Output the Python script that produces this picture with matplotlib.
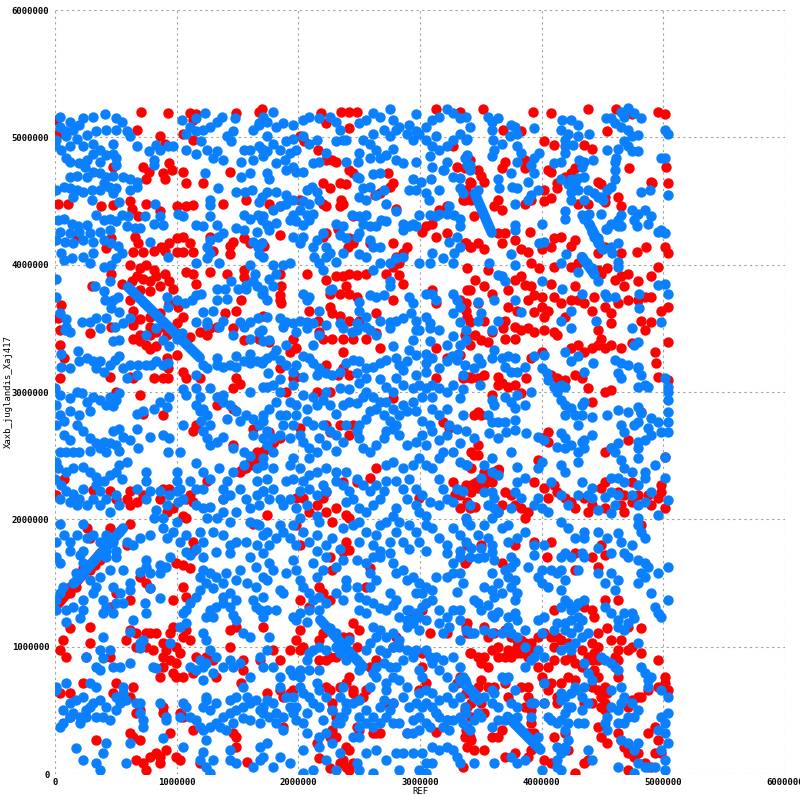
import matplotlib
matplotlib.use("Agg")
import matplotlib.pyplot as plt

# ---- data (all coordinates in kb; converted to bp below) ----
x_ticks_bp = [0, 1000000, 2000000, 3000000, 4000000, 5000000, 6000000]
y_ticks_bp = [0, 1000000, 2000000, 3000000, 4000000, 5000000, 6000000]
x_label = "REF"
y_label = "Xaxb_juglandis_Xaj417"

# reverse (blue) alignments drawn as longer segments (x1, y1, x2, y2)
rev_segments_kb = [
    (600, 3825, 1190, 3270), (160, 1500, 560, 1930), (2180, 1210, 2530, 843),
    (3330, 740, 3480, 600), (3720, 450, 3990, 190), (3450, 4560, 3590, 4250),
    (4390, 4320, 4500, 4120), (4330, 4060, 4430, 3930),
]
# forward (red) alignments drawn as longer segments
fwd_segments_kb = [
    (20, 1330, 380, 1740), (1520, 2370, 1800, 2600), (3290, 2190, 3650, 2390),
]

rev_a = [(40,5160),(120,5120),(230,5150),(310,5160),(410,5180),(500,5150),(550,5120),(40,5080),(80,5050),(150,5060),(200,5100),
(10,4980),(90,5010),(180,4990),(260,5020),(340,5050),(420,5060),(500,5060),(590,5050),(620,5010),
(0,4940),(50,4900),(120,4930),(230,4930),(310,4950),(370,4900),(480,4950),(480,4870),(500,4840),(420,4860),(310,4870),(260,4820),(200,4800),(120,4810),(90,4840),
(250,4770),(310,4730),(370,4810),(500,4780),(260,4690),(180,4700),(120,4690),(370,4720),(420,4690),(480,4700),(560,4690),(620,4670),(670,4650),(670,4610),(620,4590),(500,4600),(440,4610),(370,4590),(300,4590),(230,4570),(180,4590),(120,4600),(70,4610),(10,4590),(150,4530),(300,4510),(480,4560),(400,4640),
(670,4930),(770,4890),(810,4820),(810,4780),(860,4900),(930,4930),(970,4930),(830,4940),
(820,4480),(860,4380),(890,4310),(810,4320),(740,4380),(530,4490),
(25,4350),(70,4360),(140,4320),(190,4300),(260,4310),(340,4390),(400,4350),(450,4360),(500,4340),(550,4390),(600,4380),(660,4290),(700,4290),(590,4300),(450,4270),(370,4260),(290,4250),(200,4260),(120,4250),(40,4260),(10,4190),(80,4180),(150,4170),(230,4190),(310,4180),(400,4190),(460,4170),(520,4150),(550,4090),(500,4050),(460,4000),(400,3980),(310,4090),(290,4010),(230,4060),(140,4050),(70,4040),(50,4090),
(780,4180),(930,4060),(1050,4380),(1010,4400),(1160,4310),(1220,4300),(1270,4380),(1330,4310),(1380,4250),(1340,4220),(1270,4190),(1250,4140),(1270,4090),(1250,4050),(1160,4010),(1350,4010),
(1040,5140),(1110,5080),(1160,5050),(1220,5060),(1270,5080),(1330,5120),(1370,5160),(1230,5190),(1160,5150),(1080,5030),(1200,4970),(1250,4900),(1300,4840),(1380,4820),(1330,4890),(1450,4970),(1460,5050),(1410,5010),(1550,4900),(1600,4900),(1680,4930),(1710,4850),(1630,4820),(1530,4810),(1630,5060),(1680,5110),(1710,5160),(1480,5150),(1080,4900),(1160,4870),
(1230,4720),(1340,4600),(1270,4510),(1270,4470),(1600,4720),(1530,4690),(1490,4570),(1560,4570),(1620,4590),(1700,4530),(1680,4490),
(1550,4390),(1600,4360),(1670,4390),(1700,4350),(1490,4290),(1550,4270),(1660,4260),(1630,4180),(1670,4140),(1680,4080),(1600,4000),(1640,3930),(1570,3810),(1660,3830),(1710,3800),
(10,3890),(10,3750),(450,3870),(400,3790),(330,3830),(410,3720),(480,3720),(520,3750),(460,3660),(530,3630),(420,3580),(340,3580),(290,3550),(220,3550),(90,3570),(40,3620),(90,3510),(490,3510),(560,3540),
(920,3750),(930,3670),(1000,3720),(1070,3700),(1160,3760),(1130,3720),(1200,3770),(1330,3810),(1400,3810),(1330,3720),(1410,3730),(1450,3870),(1500,3810),(1570,3840),(1630,3870),(1700,3770),(1220,3630),(1300,3640),(1380,3560),(1350,3510),(1160,3550),(1250,3550),(1520,3550),(1600,3550),(1670,3580),(1550,3510),(615,3580)]

rev_b = [(1790,5200),(1740,5120),(1680,5100),(1820,5080),(1870,5110),(1960,5100),(2040,5140),(2090,5160),(2170,5150),(2260,5160),(2310,5120),(2340,5060),(2370,4980),
(1740,5010),(1790,4950),(1900,4970),(1960,4990),(2040,5010),(2090,4950),(2150,4980),(1980,4900),(1930,4880),(1850,4900),(1740,4890),(1700,4910),(1820,4800),(1890,4820),(1960,4770),(1740,4720),(1760,4670),(1900,4740),(1980,4730),(2040,4730),(2120,4800),(2170,4810),(2230,4880),(2310,4970),(2390,4980),(2500,5110),(2560,5140),(2610,5190),(2670,5160),(2750,5220),(2780,5140),(2800,5060),(2750,5010),(2700,5060),(2610,5030),(2590,4950),(2530,4980),(2640,4900),(2720,4860),(2780,4910),(2800,4820),(2860,4800),(2670,4840),(2590,4840),(2500,4880),(2390,4810),(2490,4810),(2480,4690),(2610,4710),(2670,4720),(2700,4590),(2640,4550),(2590,4610),(2530,4600),(2500,4530),(2560,4510),(2500,4680),
(2970,5180),(2910,5100),(2970,5050),(3050,5080),(3100,5140),(3160,5160),(3220,5220),(3270,5190),(3330,5150),(3380,5160),(3410,5080),(3380,4980),(3330,5030),(3270,4980),(3220,4930),(3160,4900),(3100,4930),(3050,4980),(2990,5030),(2940,4980),(2890,5030),(2830,5080),(3130,5010),(2970,4810),(3080,4850),(3100,4770),(3190,4740),(3220,4810),(3270,4690),(3330,4680),(3390,4780),(3390,4860),(3330,4600),(3350,4560),(3410,4740),(2940,4670),(3010,4650),(3090,4670),(2910,4590),(2970,4590),(3050,4560),(3070,4510),(3160,4590),(3200,4740),
(1740,4570),(1820,4570),(1900,4550),(1960,4510),(2070,4590),(2110,4610),(2150,4570),(2170,4510),(2090,4480),(2040,4500),(2010,4430),(1960,4390),(1980,4340),(2040,4310),(2090,4350),(2120,4400),(2070,4390),(1930,4350),(1820,4330),(1760,4300),(1710,4380),(1790,4430),(1850,4460),(1900,4480),(1760,4270),(1740,4310),(1960,4220),(2010,4170),(2040,4220),(2150,4190),(2200,4250),(2120,4140),(2130,4060),(2170,4010),(2200,3960),(2230,4060),(2310,4320),(2370,4300),(2440,4390),(2500,4380),(2560,4390),(2530,4320),(2590,4300),(2640,4300),(2680,4350),(2720,4340),(2720,4480),(2800,4420),(2860,4320),(2910,4300),(2940,4320),(2860,4270),(2970,4300),(2990,4390),(3080,4390),(3130,4380),(3160,4400),(3220,4400),(3240,4460),(3280,4390),(3330,4360),(3330,4300),(3300,4220),(3240,4180),(3330,4140),(3280,4090),(3270,4010),(3190,4050),(3100,4090),(3080,4010),(2990,4010),(2860,4060),(2800,4050),(2750,4010),(2670,4010),(2610,3960),(2560,4060),(2500,4080),(2590,4190),(2670,4140),(2610,4140),(2500,4250),(2480,4220),(2370,4090),(2390,4210),(2340,4230),(2310,4020),(2260,4090),(2230,4140),(1710,4060),(1700,4170),(1870,4000),(1930,4010),(1790,4000),(1820,3930),(1760,3890),(1790,3830),(1710,3770),(1740,3720),
(2040,3770),(2090,3750),(2070,3720),(2170,3640),(2260,3800),(2280,3810),(2500,3710),(2590,3760),(2640,3750),(2700,3760),(2750,3830),(2750,3870),(2910,3750),(2940,3700),(2930,3620),(2860,3580),(2800,3560),(2750,3550),(2670,3560),(2560,3590),(2500,3640),(2560,3510),(2480,3540),(2340,3540),(2230,3530),(2120,3540),(2070,3550),(2010,3560),(1960,3540),(1850,3580),(1900,3550),(1740,3590),(1870,3510),(3050,3770),(3100,3770),(3130,3720),(3270,3770),(3300,3720),(3330,3670),(3270,3620),(3330,3550),(3380,3490),(3050,3590),(3080,3540),(2970,3560),(2990,3490),(3160,3490)]

rev_c = [(3560,5160),(3590,5120),(3640,5150),(3590,5060),(3600,4980),(3610,4900),(3590,4850),(3670,4950),(3740,5010),(3780,5080),(3800,5030),(3750,5100),(3940,5070),(3800,4930),(3830,4880),(3800,4810),(3750,4720),(3640,4670),(3650,4600),(3760,4610),(3800,4600),(3890,4650),(3940,4720),(3910,4780),(3940,4840),(3980,4880),(3970,4590),(3910,4550),(3890,4510),(3390,4990),(3370,4840),(3410,4780),(3480,4590),(3780,4480),(3780,4310),(3780,4270),(4000,4320),(3980,4170),(4020,4180),(4100,4800),(4160,4810),(4190,4880),(4190,4980),(4160,5060),(4170,5140),(4240,5140),(4300,5100),(4220,5030),(4260,4940),(4300,5010),(4390,5030),(4190,4930),(4160,4670),(4220,4630),(4240,4670),(4270,4640),(4300,4680),(4350,4690),(4330,4770),(4350,4810),(4420,4820),(4310,4820),(4240,4570),(4300,4590),(4380,4590),(4430,4560),(4460,4530),(4490,4530),(4350,4510),(4240,4510),(4190,4420),(4190,4360),(4330,4390),(4350,4360),(4390,4400),(4390,4320),(4410,4260),(4430,4220),(4460,4170),(4500,4120),(4570,4140),(4630,4170),(4580,4090),(4630,4020),(4630,3980),(4330,4060),(4370,4010),(4410,3970),(4430,3930),(4300,3940),(4160,4010),(4200,4080),(4460,3870),(4520,3770),(4540,3750),(4460,4210),(4530,4280),(4570,4320),(4630,4350),(4650,4390),(4630,4300),(4490,4400),(4500,4510),(4570,4610),(4600,4670),(4540,4590),(4600,4740),(4600,4810),(4630,4910),(4610,4840),(4540,4900),(4680,4970),(4710,4930),(4740,5010),(4790,5020),(4710,5060),(4650,5080),(4600,5110),(4570,5150),(4530,5150),(4650,5200),(4710,5230),(4760,5190),(4820,5150),(4680,5160),(4790,4890),(4740,4890),(5010,5060),(5040,5030),(4980,4840),(5010,4840),(5040,4550),(4820,4570),(4890,4590),(4740,4430),(4790,4400),(4850,4430),(4900,4380),(4870,4320),(4760,4350),(4780,4300),(4650,4300),(4540,4280),(4960,4260),(4980,4270),(5010,4250),(4960,3840),(5010,3850),(5040,3770),(4800,3770),(4800,3660),(4980,3550),(3640,3920),(3670,3910),(3700,3870),(3570,4010),(3780,4000),(3750,4080),(4000,3870),(4170,3810),(4330,3770),(4240,3640),(4160,3560),(4450,3560),(4600,3750),(3610,3720),(3480,3710),(3500,3620),(3480,3560),(3640,3560),(3780,3720),(3830,3630)]

rev_d = [(80,3490),(120,3475),(370,3500),(480,3400),(530,3410),(750,3450),(830,3500),(890,3410),(940,3360),(1000,3420),(1040,3460),(1250,3527),(1460,3450),(1600,3420),(1680,3475),(1710,3400),
(50,3300),(50,3200),(120,3190),(190,3320),(200,3240),(260,3265),(310,3240),(370,3240),(400,3160),(340,3190),(450,3210),(490,3250),(530,3280),(560,3190),(620,3210),(590,3110),(670,3130),(680,3210),(750,3210),(790,3210),(830,3240),(890,3210),(930,3230),(1160,3130),(1220,3210),(1250,3190),(1330,3210),(1380,3200),(1440,3210),(1490,3200),(1550,3240),(1600,3230),(1660,3240),(1710,3240),(1330,3265),(1490,3280),(1600,3300),
(0,3030),(40,2980),(120,2950),(180,3000),(220,2990),(260,2920),(310,2960),(370,2940),(420,2900),(480,2890),(500,2940),(530,2990),(450,2960),(290,2850),(200,2820),(120,2850),(40,2820),(10,2900),(10,2740),(70,2770),(70,2660),(120,2620),(180,2740),(230,2690),(290,2640),(340,2600),(400,2610),(450,2600),(500,2580),(480,2690),(530,2710),(560,2650),(620,2620),(670,2710),(720,2850),(670,2830),(810,2870),(860,2920),(920,2880),(940,2960),(780,2650),(890,2660),(940,2640),(1050,3020),(1080,2980),(1050,2740),(1030,2530),(930,2530),(1160,3030),(1190,2960),(1220,2870),(1250,2820),(1200,2770),(1220,2690),(1270,2740),(1250,2640),(1270,2580),(1330,2610),(1270,3030),(1330,2960),(1380,2980),(1380,2920),(1440,2900),(1490,2850),(1520,2770),(1410,2790),(1570,2820),(1630,2790),(1680,2740),(1710,2820),(1600,3000),(1710,3040),(1380,2650),(1460,2560),(1550,2530),(1600,2500),(1630,2660),(1710,2640),(1160,2900),(1190,2850),
(40,2530),(90,2530),(150,2530),(200,2530),(290,2540),(370,2560),(420,2530),(530,2540),(680,2560),(590,2450),(10,2450),(25,2400),(0,2320),(90,2370),(150,2400),(230,2410),(290,2370),(340,2330),(400,2300),(450,2350),(500,2370),(530,2430),(550,2320),(750,2370),(1000,2370),(1160,2440),(1220,2370),(1270,2320),(1350,2400),(1410,2300),(1460,2370),(1550,2430),(1660,2400),(1710,2430),(1660,2300),
(50,2270),(90,2220),(150,2200),(230,2240),(200,2160),(340,2270),(370,2220),(420,2160),(500,2190),(530,2110),(450,2060),(370,2110),(310,2160),(260,2110),(180,2110),(120,2140),(40,2160),(670,2240),(750,2300),(780,2220),(750,2160),(860,2220),(940,2190),(1000,2220),(1050,2160),(1010,2140),(920,2110),(830,2070),(890,2010),(1000,1980),(810,2010),(1000,2300),(1030,2240),(1110,2300),(1160,2240),(1220,2240),(1220,2090),(1270,2100),(1160,2110),(1250,2010),(1330,2010),(1380,2060),(1440,1980),(1490,2060),(1600,2090),(1660,2190),(1710,2220),(1380,2240),(1440,2190),(1380,2160),(1520,2240),(1570,2160),(1600,1980),(1660,1960),(1710,1880),(1660,1800),(1570,1820),(1490,1820),(1380,1880),(1440,1800),(1300,1900),(1190,1900),(1220,1820),(1160,1770),(40,1960),(70,1880),(10,1820),(120,1820),(180,1880),(230,1960),(260,1850),(310,1880),(370,1820),(420,1880),(480,1820),(530,1900),(500,1750),(420,1750),(590,1820),(640,1800),(700,1850),(780,1880),(890,1930),(920,1850),(970,1900),(1080,1880),(1030,1820),(230,1750),(120,1750)]

rev_e = [(1700,3490),(1760,3410),(1820,3330),(1900,3370),(1980,3475),(2070,3500),(2120,3370),(2170,3450),(2370,3500),(2440,3475),(2480,3490),(2590,3490),(2640,3450),(2750,3500),(2970,3490),(3080,3500),(2940,3410),(3080,3400),(3220,3370),(3270,3440),(3330,3370),(3380,3410),(2780,3360),(2910,3330),(2970,3290),(3050,3300),(3100,3265),(3050,3230),(2890,3240),(2800,3265),(2830,3210),(2720,3250),(2670,3230),(2610,3200),(2560,3190),(2500,3240),(2450,3250),(2390,3230),(2340,3160),(2280,3130),(2230,3150),(2170,3190),(2120,3230),(2090,3265),(2040,3280),(1980,3210),(1960,3160),(1900,3210),(1850,3250),(1790,3290),(1740,3265),(1700,3230),(1750,3150),(1740,3040),(1790,3055),(1850,3000),(1960,3055),(1850,3100),(2040,3120),(2150,3130),(3260,3280),(3300,3250),(3310,3300),(3220,3240),(3160,3190),(3350,3130),(3440,3190),(2860,3170),(2970,3130),(3050,3160),(2800,3110),(2670,3100),(2560,3110),(2480,3150),(2500,3070),(2420,3020),(2340,3030),(2230,3000),(2120,2960),(2040,2980),(1980,2900),(1930,2920),(1980,2820),(2070,2870),(2150,2900),(2200,2940),(2260,2900),(2310,2830),(2370,2900),(2420,2920),(2480,2910),(2530,2960),(2560,3000),(2610,2960),(2670,2920),(2720,3040),(2780,3000),(2860,3055),(2940,3030),(2990,3055),(3050,3030),(3100,3055),(3160,3030),(3220,3000),(3270,3055),(3330,2950),(3350,3020),(3100,2960),(3020,2960),(2940,2920),(2970,2850),(3020,2770),(3020,2660),(3050,2580),(2970,2610),(2890,2580),(2830,2660),(2800,2740),(2750,2770),(2700,2820),(2640,2870),(2590,2850),(2560,2790),(2500,2740),(2480,2690),(2500,2640),(2530,2560),(2590,2530),(2640,2580),(2700,2640),(2720,2690),(2780,2710),(2830,2820),(2890,2850),(2860,2900),(2780,2870),(2720,2920),(3100,2870),(3160,2820),(3220,2870),(3240,2740),(3220,2660),(3160,2620),(3100,2690),(3080,2740),(3300,2710),(3350,2820),(3380,2690),(3440,2640),(3330,2600),(3270,2530),(3190,2530),(3160,2480),(3330,2450),(3380,2430),(1820,2920),(1760,2870),(1710,2770),(1740,2690),(1790,2640),(1850,2660),(1870,2740),(1900,2820),(1850,2820),(1930,2640),(1960,2740),(2010,2660),(2040,2610),(2090,2560),(2150,2530),(2170,2640),(2120,2740),(2070,2770),(2200,2740),(2260,2690),(2310,2660),(2390,2740),(2370,2610),(2310,2540),(2230,2580),(1740,2580),(1790,2530),(1710,2480),(1960,2480),(2090,2480),(2010,2400),(1930,2430),(1790,2400),(1740,2320),(1790,2240),(1900,2300),(1960,2320),(2040,2300),(2090,2350),(2150,2370),(2200,2270),(2230,2220),(2150,2190),(2090,2240),(2010,2220),(1930,2160),(1850,2160),(1760,2160),(1870,2110),(1980,2090),(2070,2110),(2150,2030),(2170,1980),(2230,2400),(2310,2370),(2390,2370),(2310,2300),(2370,2270),(2420,2220),(2480,2320),(2530,2270),(2590,2220),(2640,2270),(2700,2220),(2670,2160),(2610,2110),(2560,2060),(2500,2090),(2450,2160),(2390,2140),(2720,2300),(2800,2300),(2860,2240),(2720,2430),(2780,2450),(2860,2400),(2940,2430),(2990,2480),(3050,2430),(3100,2400),(3160,2320),(3190,2240),(3220,2160),(3160,2110),(3080,2140),(3020,2190),(2970,2240),(2910,2320),(2890,2160),(2970,2110),(2990,2060),(3050,2030),(3300,2240),(3350,2220),(3270,2140),(3410,2110),(3380,2010),(3270,1930),(3330,1880),(3410,1955),(3380,1820),(3330,1750),(3220,1800),(3160,1850),(3100,1930),(3050,1955),(2970,1900),(2910,1955),(2830,1980),(2780,2030),(2720,1980),(2670,1955),(2640,1880),(2610,1800),(2670,1750),(2750,1820),(2800,1900),(2860,1820),(2910,1770),(2990,1820),(3050,1750),(2560,1900),(2500,1820),(2450,1955),(2370,1930),(2280,1850),(2230,1800),(2150,1880),(2090,1820),(2040,1900),(1980,1800),(1930,1850),(1870,1900),(1820,1850),(1760,1800),(1740,1900),(1680,1955),(1850,1955),(1960,1955),(2010,2010),(1710,2220),(1680,2110),(2800,2086),(2500,1980),(2340,1770),(2150,1750)]

rev_f = [(3590,3490),(4240,3500),(4740,3500),(3610,3330),(3480,3265),(3500,3230),(3590,3265),(3670,3265),(3720,3280),(3780,3265),(3700,3200),(3750,3160),(3800,3160),(3860,3200),(3940,3280),(4020,3290),(4190,3317),(4240,3240),(4300,3280),(4350,3160),(4420,3230),(4600,3250),(4650,3230),(4710,3213),(4790,3200),(4760,3370),(4790,3396),(4630,3150),(4650,3108),(4790,3186),(4820,3134),(4850,3055),(4790,3040),(4870,3040),(5010,3108),(5040,3040),(5040,3003),(5040,2940),(5040,2846),(5040,2689),(4960,2767),(5010,2490),(3370,3213),(3490,3055),(3590,2940),(3610,2898),(3700,2960),(3750,2924),(3780,2872),(3800,2977),(3860,2898),(3910,3003),(3560,2820),(3590,2767),(3640,2767),(3700,2767),(3780,2780),(3570,2676),(3640,2636),(3710,2689),(3780,2700),(3870,2676),(3970,2650),(4020,2623),(4000,3186),(4040,3147),(4050,3095),(4100,3040),(4130,3003),(4160,3055),(4190,3040),(4160,2940),(4190,2898),(4190,2820),(4240,2872),(4270,2820),(4300,2741),(4330,2898),(4350,2924),(4410,2807),(4330,2820),(4160,2676),(4190,2636),(4130,2571),(4190,2558),(4240,2584),(4300,2531),(4350,2558),(4330,2610),(4410,2662),(4350,2623),(4540,2820),(4630,2859),(4710,2846),(4790,2885),(4820,2833),(4790,2767),(4760,2741),(4650,2741),(4680,2689),(4870,2715),(4900,2662),(4850,2623),(4790,2610),(4900,2793),(5040,2767),(4980,2689),(4600,2531),(4570,2558),(4630,2597),(4650,2466),(4680,2400),(4570,2322),(4630,2322),(4740,2374),(4790,2558),(4790,2479),(4850,2374),(4850,2322),(4790,2269),(4740,2191),(4790,2112),(4850,2138),(4900,2217),(4930,2427),(5010,2322),(5040,2151),(4960,2034),(4790,2008),(4790,1955),(4820,1903),(4850,1850),(4740,1798),(4650,1824),(4630,1890),(4540,1850),(4460,1903),(4350,1903),(4350,1850),(4270,1850),(4220,1929),(4160,1981),(4050,2060),(4000,2086),(3970,2165),(3940,2112),(3800,2296),(3780,2217),(3830,2165),(3750,2086),(3720,1955),(3670,1929),(3640,2060),(3590,2008),(3530,1955),(3480,1877),(3390,1981),(3560,1850),(3590,1798),(3500,1772),(3420,1772),(3720,1824),(3800,1850),(3860,1903),(3940,1798),(4080,2296),(4160,2191),(4220,2112),(4300,2191),(4380,2191),(4410,2243),(4460,2073),(4520,2178),(4570,2217),(4630,2191),(4600,2112),(4680,2296),(3390,2427),(3500,2322),(3530,2427),(3590,2479),(3590,2374),(3640,2348),(3590,2217),(3530,2217),(3610,2165),(3560,2112),(3610,2086),(3750,2531),(3800,2414),(3860,2322),(3970,2400),(4000,2453),(4160,2427),(4190,2374),(4300,2453),(4330,2296),(4410,2165),(4570,2047),(4460,1772),(4020,1798)]

rev_g = [(12,1708),(40,1655),(204,1720),(231,1655),(176,1577),(149,1498),(67,1472),(39,1419),(12,1367),(12,1288),(94,1288),(149,1315),(231,1367),(231,1288),(204,1223),(94,1197),(286,1524),(368,1550),(341,1472),(313,1419),(395,1367),(423,1315),(395,1262),(478,1262),(505,1341),(560,1341),(532,1419),(478,1472),(450,1603),(423,1708),(505,1708),(560,1603),(615,1498),(615,1446),(752,1681),(752,1629),(697,1590),(779,1577),(861,1642),(943,1708),(916,1629),(861,1577),(779,1459),(861,1380),(738,1341),(752,1262),(642,1210),(615,1118),(697,1026),(724,1053),(697,987),(395,1079),(368,974),(450,974),(258,922),(395,908),(341,843),(368,817),(532,843),(615,869),(478,843),(834,830),(806,843),(943,1026),(1080,1747),(1108,1720),(1217,1708),(1327,1747),(1437,1734),(1601,1708),(1656,1629),(1217,1603),(1190,1550),(1245,1498),(1300,1459),(1190,1446),(1163,1393),(1108,1341),(1080,1288),(1053,1262),(1080,1184),(1026,1157),(1245,1236),(1272,1288),(1327,1315),(1300,1236),(1382,1393),(1437,1419),(1382,1341),(1437,1315),(1491,1367),(1464,1249),(1491,1210),(1546,1105),(1601,1079),(1656,1315),(1628,1367),(1683,1288),(1710,1236),(1656,1472),(1710,1550),(1574,1498),(1491,1524),(1382,1498),(1327,1550),(1272,1577),(1409,1577),(1519,1603),(1217,1105),(1245,1053),(1272,974),(1327,922),(1245,869),(1217,843),(1300,791),(1382,843),(1437,895),(1464,843),(1519,869),(1601,764),(1710,843),(1683,922),(1190,895),(12,686),(94,712),(176,581),(231,607),(121,555),(67,502),(121,450),(67,398),(39,371),(149,476),(204,450),(258,502),(286,529),(341,450),(395,450),(450,424),(505,502),(532,555),(560,633),(560,686),(587,581),(505,607),(423,529),(368,581),(341,686),(313,555),(258,450),(204,398),(669,555),(697,476),(724,424),(724,371),(615,240),(423,240),(395,162),(341,83),(368,31),(176,201),(231,109),(587,83),(861,555),(916,450),(916,424),(889,280),(1053,555),(1080,529),(1108,450),(1163,424),(1190,371),(1217,345),(1272,371),(1327,398),(1382,450),(1437,476),(1491,502),(1546,529),(1601,555),(1656,581),(1710,529),(1245,607),(1217,529),(1272,502),(1327,555),(1245,581),(1437,581),(1491,607),(1574,607),(1683,502),(1683,398),(1601,424),(1546,437),(1464,398),(1409,345),(1354,371),(1245,267),(1217,175),(1190,109),(1245,57),(1300,109),(1437,188),(1437,109),(1491,83),(1628,57),(1683,109),(1683,214),(1272,5),(1053,214),(1026,450),(1217,738),(1163,817),(1108,843),(1546,686),(12,660),(697,555),(286,712)]

rev_h = [(1710,1734),(1760,1655),(1790,1603),(1740,1524),(1710,1393),(1740,1288),(1820,1288),(1870,1419),(1850,1446),(1900,1577),(1960,1681),(1980,1603),(2010,1524),(2040,1472),(2090,1419),(2120,1367),(2170,1393),(2150,1550),(2120,1655),(2230,1708),(2200,1603),(2310,1629),(2370,1681),(2390,1524),(2480,1681),(2390,1472),(2310,1419),(2370,1367),(2230,1341),(2170,1288),(2090,1288),(2010,1262),(1980,1210),(2070,1197),(1960,1236),(2480,1472),(2500,1393),(2590,1472),(2640,1524),(2590,1577),(2560,1655),(2610,1708),(2670,1708),(2750,1734),(2780,1655),(2800,1577),(2860,1603),(2890,1524),(2940,1550),(2990,1498),(3050,1472),(3100,1446),(3130,1550),(3220,1550),(3270,1577),(3330,1577),(3270,1655),(3330,1708),(3220,1734),(3350,1498),(3410,1708),(3440,1367),(3100,1367),(3050,1341),(3020,1315),(2990,1236),(2970,1262),(2940,1184),(2890,1210),(2910,1288),(2750,1419),(2800,1367),(2780,1328),(2720,1288),(2670,1302),(2610,1341),(2560,1367),(2560,1262),(2500,1288),(3300,1433),(3270,1288),(3330,1210),(3050,1210),(3160,1288),(3190,1105),(3330,1053),(1760,1079),(1740,974),(1790,843),(1850,764),(1850,686),(1900,607),(1980,529),(1960,607),(1930,529),(1820,476),(1760,450),(1710,476),(1740,581),(2010,686),(1930,817),(1960,778),(2010,817),(2090,817),(2170,817),(2070,895),(2090,948),(2120,974),(2170,1000),(2230,974),(2310,1000),(2340,948),(2390,895),(2420,1053),(2310,1105),(2260,1144),(2480,895),(2500,817),(2560,974),(2590,1026),(2640,1079),(2670,974),(2720,948),(2780,1000),(2830,1000),(2890,974),(2860,895),(2800,843),(2750,843),(2700,869),(2640,843),(2610,791),(2640,764),(2590,686),(2500,581),(2560,502),(2610,450),(2670,529),(2700,581),(2720,660),(2720,712),(2780,764),(2830,738),(2890,686),(2860,607),(2780,555),(2750,502),(2720,450),(2780,398),(2830,398),(2670,398),(2610,371),(2560,398),(2500,450),(2500,371),(2450,555),(2390,502),(2340,450),(2280,502),(2230,607),(2170,529),(2120,555),(2070,476),(2040,398),(1980,424),(1960,476),(1870,450),(1820,398),(1870,345),(2200,424),(2310,398),(2370,450),(2390,555),(2340,607),(2170,660),(2040,633),(2090,607),(2150,712),(2010,764),(2370,686),(2340,398),(2230,319),(2170,293),(2070,319),(2170,214),(2230,109),(2280,240),(2340,162),(2450,293),(2500,293),(2560,162),(2640,188),(2720,109),(2800,162),(2860,162),(2940,162),(3020,162),(3050,83),(3100,83),(3160,188),(3220,214),(3270,188),(3300,136),(3330,83),(3440,83),(2940,424),(2990,450),(3020,529),(3050,555),(3100,529),(3130,476),(3160,450),(3220,424),(3270,424),(3330,450),(3380,476),(3440,424),(3350,398),(3410,345),(3240,345),(3190,371),(3080,371),(2990,345),(3050,398),(2910,529),(2970,555),(2890,319),(2940,319),(3080,922),(3100,869),(3160,817),(3190,895),(3270,922),(3330,843),(3350,764),(3380,712),(3410,660),(3440,607),(3220,764),(3270,686),(3330,607),(3270,555),(3220,607),(3160,581),(3100,633),(3050,660),(2990,633),(3020,764),(2990,817),(2940,922),(2970,974),(3050,974),(3130,922),(1740,240),(1710,136),(1790,57),(1850,136),(1930,83),(2040,5),(2120,31),(2310,31),(2480,83),(2500,31),(2610,5),(2830,31),(2990,31),(3050,5),(3100,214),(1790,555),(2040,188),(2610,1157),(2670,1131),(2720,1079),(2780,1105),(2830,1053),(2890,1157),(2940,1210),(2990,1131),(2830,1236),(2890,1288),(2970,1419),(3020,1419),(3160,1184),(3220,1236),(3240,1157),(3330,1288),(3380,1131),(3440,1105)]

rev_i = [(3480,1695),(3530,1708),(3610,1681),(3590,1747),(3750,1708),(3780,1668),(3750,1629),(3890,1629),(3940,1721),(4000,1603),(3970,1550),(3590,1577),(3530,1472),(3590,1446),(3640,1498),(3670,1419),(3610,1393),(3560,1328),(3480,1341),(3500,1288),(3590,1249),(3610,1236),(3640,1275),(3700,1603),(3720,1550),(3780,1524),(3750,1472),(3800,1419),(3780,1367),(3720,1236),(3780,1262),(3800,1210),(3720,1157),(3670,1105),(3590,1105),(3530,1131),(3420,1105),(3750,1105),(3800,1079),(3860,1131),(3860,1000),(3860,843),(3910,895),(3940,922),(3970,974),(4020,922),(4000,1105),(3970,1210),(4020,1236),(4050,1472),(4000,1498),(4080,1603),(4130,1577),(4160,1708),(4190,1734),(4240,1708),(4330,1734),(4350,1708),(4160,1603),(4190,1524),(4160,1446),(4190,1367),(4160,1315),(4220,1341),(4240,1288),(4270,1315),(4300,1341),(4350,1367),(4300,1236),(4330,1210),(4240,1210),(4190,1184),(4130,1184),(4100,1131),(4190,1131),(4240,1105),(4300,1157),(4330,1079),(4270,1026),(4240,974),(4160,974),(4220,1000),(4380,1105),(4300,1603),(4460,1577),(4570,1577),(4630,1524),(4600,1446),(4520,1498),(4520,1315),(4570,1262),(4630,1210),(4680,1262),(4740,1262),(4710,1184),(4680,1131),(4630,1157),(4760,1223),(4790,1681),(4850,1655),(4870,1629),(4850,1550),(4820,1577),(4790,1498),(4900,1419),(4930,1315),(4960,1262),(4980,1236),(5040,1629),(5040,1367),(4960,1577),(4680,1734),(4710,1708),(4570,1734),(4350,869),(4380,791),(4410,738),(4490,922),(4520,895),(4570,869),(4600,843),(4630,817),(4570,660),(4650,686),(4790,1026),(4820,843),(4850,791),(4870,738),(4900,764),(4870,686),(4980,660),(5040,607),(5040,476),(4980,450),(5010,398),(4960,345),(5010,319),(5040,240),(4980,188),(5010,109),(5010,31),(4930,57),(4870,57),(4760,450),(4790,502),(4740,555),(4680,607),(4650,555),(4630,502),(4570,529),(4540,450),(4520,398),(4540,345),(4630,398),(4680,398),(4710,450),(4650,267),(4710,240),(4760,188),(4630,57),(4760,5),(3370,738),(3390,686),(3420,660),(3450,607),(3480,581),(3530,607),(3590,660),(3610,633),(3640,529),(3590,555),(3670,764),(3700,738),(3720,764),(3780,660),(3750,555),(3800,529),(3970,293),(3800,450),(3910,450),(3480,476),(3500,450),(3590,371),(3390,371),(3370,529),(3640,424),(3700,424),(4000,31),(4020,712),(4020,555),(4050,450),(4080,424),(4130,398),(4160,424),(4190,476),(4220,529),(4160,581),(4160,633),(4190,607),(4240,633),(4270,686),(4300,660),(4330,607),(4240,529),(4220,398),(4300,398),(4350,398),(4330,502),(4380,555),(4350,686),(4190,345),(4220,267),(4190,214),(4160,162),(4130,109),(4130,57),(4160,31),(4190,188),(4130,214),(3750,136),(3800,83),(3860,109),(3610,83),(4410,109),(4380,188),(4790,83),(4850,57),(4790,240),(3910,555),(3940,555)]

fwd_a = [(710,5200),(930,5190),(1110,5190),(1160,5180),(1135,5140),(1490,5190),(1680,5200),(1050,5030),(1135,4980),(670,5060),(860,5010),(900,4950),(25,5030),(10,5140),
(480,4770),(720,4770),(770,4730),(750,4670),(890,4720),(960,4740),(900,4670),(940,4800),(1050,4730),(1080,4640),(1220,4640),(1440,4730),
(25,4480),(110,4480),(380,4460),(480,4470),(620,4500),(630,4440),(750,4480),(680,4380),(860,4420),(1000,4460),(1080,4460),(1135,4470),(1380,4480),(1570,4510),
(655,4220),(683,4170),(640,4100),(720,4100),(810,4110),(875,4140),(940,4170),(1000,4210),(1050,4220),(1110,4170),(1135,4100),(1050,4100),(1000,4100),(900,4110),(1270,4220),(1300,4110),(1440,4150),(1460,4180),(1550,4210),(1600,4170),(1440,4080),(180,4220),(420,4130),(460,4210),
(615,4000),(700,3970),(750,4000),(810,3960),(670,3910),(720,3890),(780,3870),(830,3910),(900,3930),(940,3870),(970,3810),(860,3830),(780,3790),(700,3800),(630,3870),(615,3720),(640,3640),(630,3570),(700,3570),(780,3590),(860,3620),(940,3700),(1010,3670),(1050,3590),(1000,3540),(890,3510),(780,3510),(1080,3940),(1135,3930),(1270,3940),(1160,3850),(1410,3930),(1550,3960),(1550,3900),(1530,3720),(1490,3640),(1400,3620),(1330,3510),(50,3680),(25,3580),(300,3830),(460,3930),(550,3850)]

fwd_b = [(1700,5220),(2190,5190),(2230,5110),(2350,5200),(2420,5200),(2480,5200),(2420,5070),(2010,5010),(2050,4970),(2160,4900),(2280,4820),(2310,4810),(2420,4740),(2450,4720),(2230,4820),(2200,4640),(2340,4640),(2390,4630),(2260,4600),(2350,4510),(2340,4460),(2370,4480),(2010,4510),(2200,4480),(2230,4460),(1760,4480),(1850,4460),(2740,4720),(2750,4610),(2780,4640),(2670,4560),(2630,4550),(2800,4440),(3130,5220),(3330,5200),(3270,4930),(3300,4770),(3410,4820),(3410,4650),(3380,4590),(3350,4510),(3410,4520),(3160,4430),(3220,4460),(3050,4300),(3100,4320),(3020,4260),(3130,4220),(3220,4250),(3380,4170),(3440,4380),(3410,4140),(2450,4380),(2330,4280),(2230,4250),(2200,4220),(2420,4210),(2410,4140),(2450,4170),(2590,4170),(2780,4170),(2800,4060),(2860,4090),(2890,4140),(2830,4010),(2780,3980),(1850,4230),(1700,4170),(1720,4150),(2070,3930),(2310,3910),(2370,3910),(2420,3930),(2480,3920),(2560,3930),(2720,3930),(2830,3920),(2390,3830),(2340,3770),(2420,3770),(2480,3750),(2260,3770),(2230,3880),(1850,3930),(1860,3830),(1850,3760),(1850,3720),(1860,3700),(1710,3600),(2090,3640),(2160,3560),(2260,3670),(2280,3620),(2340,3600),(2420,3560),(2500,3560),(2640,3620),(2780,3720),(2860,3850),(3100,3800),(3130,3700),(3410,3800),(3380,3700),(3330,3720),(3410,3550),(3380,3640)]

fwd_c = [(3520,5220),(3930,5200),(4080,5190),(4380,5220),(4610,5220),(4740,5180),(4960,5200),(5010,5180),(3680,5060),(3830,5050),(4020,4970),(4100,4940),(4350,4940),(4410,4910),(4540,5050),(4720,4760),(5020,4770),(5040,4640),(4910,4640),(3370,4760),(3480,4740),(3500,4700),(3530,4650),(3420,4640),(3670,4760),(3700,4810),(3860,4820),(3860,4760),(4050,4740),(4080,4730),(4270,4760),(4240,4720),(4190,4690),(4130,4640),(4130,4600),(4020,4590),(4080,4520),(4020,4500),(3910,4510),(3860,4480),(3640,4510),(3610,4460),(3670,4430),(3420,4510),(3370,4510),(4460,4650),(4490,4630),(4520,4530),(4630,4530),(4520,4490),(4380,4480),(4300,4480),(4650,4460),(4900,4650),(4860,4140),(4780,4100),(5010,4140),(5040,4090),(4650,4090),(4460,4090),(4520,4140),(4270,4190),(4240,4150),(4160,4220),(4080,4140),(4100,4210),(4000,4120),(3780,4190),(3700,4250),(3640,4250),(3900,4260),(3830,4120),(3890,4100),(3670,4170),(3480,4170),(3420,4140),(3530,4120),(3370,4170),(3390,3970),(3560,3960),(3450,3880),(3390,3800),(3530,3830),(3590,3770),(3480,3700),(3390,3590),(3530,3560),(3720,3800),(3780,3880),(3830,3910),(3860,3840),(3910,3830),(3940,3760),(3890,3720),(4000,3750),(4000,3670),(4080,3850),(4100,3750),(4050,3640),(4020,3590),(3940,3630),(3800,3640),(3720,3670),(3700,3560),(3780,3510),(4160,3700),(4270,3830),(4300,3720),(4240,3720),(4190,3590),(4350,3700),(4410,3640),(4430,3750),(4520,3670),(4570,3620),(4570,3540),(4630,3700),(4680,3830),(4710,3930),(4650,3910),(4790,3870),(4790,3720),(4850,3750),(4710,3720),(4900,3750),(5040,3670),(4820,3560),(4900,3550),(4980,3640),(4240,3980),(4300,4010),(4490,3930),(4540,3970),(4460,3960),(4960,3980),(4900,3910),(4600,3880),(4100,3980),(3980,3970),(3910,4010)]

fwd_d = [(40,3490),(290,3460),(460,3510),(640,3527),(700,3450),(750,3370),(780,3340),(700,3400),(640,3420),(780,3450),(830,3475),(920,3450),(1000,3460),(1110,3430),(1190,3475),(1250,3450),(1270,3500),(1460,3500),(1550,3410),(1680,3420),(40,3370),(70,3265),(40,3110),(450,3120),(620,3120),(640,3110),(810,3110),(890,3110),(930,3110),(930,3190),(1050,3160),(1080,3110),(1190,3110),(920,3265),(1000,3290),(500,3000),(700,2980),(890,2820),(720,2830),(830,3360),(1490,3110),(1460,3030),(1520,3060),(1330,2900),(1460,2870),(1160,2740),(1135,2690),(1630,2710),(1460,2580),(1660,2530),(1680,2480),(1630,2430),(1570,2400),(1520,2370),(10,2190),(70,2320),(310,2230),(450,2220),(500,2160),(590,2160),(615,2220),(615,2110),(670,2140),(720,2190),(890,2240),(940,2240),(860,2160),(920,2060),(970,2090),(1080,2160),(1110,2190),(1135,2140),(1080,2010),(1250,2300),(1380,2160),(1630,1960),(260,1930),(290,1850),(615,1960),(450,1930),(590,1800),(1050,2030),(1135,1820),(1135,1750)]

fwd_e = [(1760,3396),(1960,3420),(1930,3317),(1980,3344),(1850,3186),(1960,3108),(1980,3120),(2170,3475),(2200,3420),(2280,3420),(2370,3420),(2450,3420),(2560,3420),(2640,3460),(2670,3344),(2370,3317),(2330,3134),(2370,3186),(2420,3134),(2230,3213),(1900,3003),(2150,3003),(2260,3003),(2450,2741),(2420,2662),(2230,2741),(2260,2689),(2340,2741),(2010,2715),(1760,2689),(1850,2636),(2780,2951),(3130,3344),(3220,3265),(3330,3291),(3410,3370),(3350,3108),(3410,3120),(3130,3108),(3190,2767),(3240,2715),(3440,2820),(3440,2505),(2640,2400),(2590,2322),(2370,2296),(2480,2296),(3270,2296),(3330,2191),(3380,2269),(3410,2086),(3330,2086),(2990,2165),(2230,2217),(2200,2165),(2040,2165),(1980,2165),(2150,2112),(2230,2060),(2310,2086),(2390,2034),(2420,2008),(2280,1981),(2090,2060),(1980,1955),(1740,2034),(2390,1824),(2370,1746),(2010,1798)]

fwd_f = [(3370,3450),(3390,3420),(3450,3450),(3500,3410),(3560,3396),(3590,3475),(3680,3500),(3700,3420),(3780,3420),(3830,3490),(3890,3500),(3940,3475),(4020,3490),(4100,3475),(4130,3450),(4240,3344),(4300,3370),(4350,3317),(4410,3344),(4460,3370),(4490,3420),(4520,3344),(4460,3490),(4570,3370),(4650,3344),(4740,3383),(4850,3490),(4930,3317),(5040,3396),(4940,3226),(4960,3120),(5040,3095),(3390,3120),(3480,3108),(3420,3108),(3530,3134),(3640,3120),(3670,3069),(3720,3042),(3780,3055),(3830,2990),(3870,3108),(3910,3265),(4000,3317),(4080,3134),(4130,3108),(4190,3095),(4270,3134),(4330,3108),(4380,3029),(4410,2924),(4520,3003),(4570,3016),(3640,3055),(3590,2977),(3480,2846),(3500,2820),(4820,2846),(4710,2623),(4000,2636),(4050,2689),(4050,2610),(4570,2558),(4520,2531),(5010,2492),(3970,2466),(3480,2584),(3420,2531),(3480,2505),(3420,2400),(3530,2374),(3640,2374),(3590,2296),(3530,2269),(3480,2243),(3420,2217),(3370,2243),(3390,2138),(3450,2099),(3700,2217),(3750,2191),(3780,2112),(3670,2112),(3640,2060),(3830,2086),(3890,2060),(3860,2008),(3940,2296),(4020,2243),(4100,2269),(4130,2217),(4190,2165),(4050,2165),(4240,2138),(4350,2165),(4410,2112),(4380,2060),(4270,2086),(4490,2243),(4520,2296),(4630,2217),(4680,2191),(4740,2138),(4680,2060),(4650,2112),(4790,2191),(4870,2191),(4900,2112),(4960,2165),(5010,2086),(4980,2269),(4980,2217),(4740,2296),(3940,1824),(4490,1798),(4080,1824),(3500,1798),(3390,1798),(3780,1798),(4520,2086),(4820,1955)]

fwd_g = [(121,1472),(176,1472),(286,1603),(327,1642),(231,1616),(368,1681),(121,1419),(12,1341),(450,1315),(615,1367),(505,1419),(697,1550),(752,1498),(779,1459),(998,1655),(1053,1642),(1108,1616),(1053,1472),(971,1367),(1080,1393),(121,1144),(286,1157),(67,1053),(39,974),(94,922),(286,1026),(258,922),(450,922),(587,1053),(615,1131),(669,1105),(669,1000),(752,1105),(779,1105),(834,1105),(752,1000),(806,974),(889,1026),(943,1105),(971,1157),(1053,1079),(1108,1053),(1080,1131),(998,1000),(916,974),(889,922),(943,895),(998,869),(1026,948),(889,843),(971,791),(998,764),(861,764),(1053,764),(1135,791),(1163,922),(1245,922),(1300,895),(1327,764),(1437,1000),(1546,895),(1546,817),(1683,895),(1710,1157),(1491,1157),(1437,1131),(39,633),(121,633),(231,712),(505,712),(642,686),(478,633),(615,607),(697,502),(889,529),(889,476),(1026,476),(1053,450),(1135,345),(1464,319),(1491,293),(1491,214),(1574,96),(1190,83),(341,267),(615,319),(642,293),(697,267),(669,109),(724,83),(752,31),(779,136),(834,162),(861,136),(861,83),(916,188),(943,319),(998,136),(1026,109),(121,450),(669,476),(1532,712)]

fwd_h = [(2260,1708),(2280,1603),(2420,1760),(2590,1616),(2560,1472),(2170,1472),(2200,1419),(2260,1367),(2090,1315),(2010,1367),(2010,1131),(1980,1053),(2040,1000),(2010,974),(1790,974),(1850,895),(1930,974),(2170,1053),(2200,1105),(2340,1053),(2370,1079),(2420,1079),(2450,1184),(2500,1131),(2480,1000),(2260,922),(2170,895),(2230,895),(2310,922),(2370,974),(2590,843),(2640,895),(2800,1079),(2780,1000),(2910,1210),(2940,1236),(3020,1288),(3080,1105),(3220,1105),(3380,1157),(3410,1105),(3410,948),(3020,948),(3020,843),(3330,764),(3300,712),(3380,633),(3440,607),(3380,345),(3410,293),(3440,188),(3350,57),(1740,633),(1850,660),(1960,660),(1930,633),(2230,686),(2260,660),(2340,686),(2390,712),(2420,764),(2450,660),(2280,555),(2280,502),(2310,450),(2450,633),(2480,581),(2530,607),(2560,660),(2780,555),(2720,555),(2990,660),(3050,712),(2610,319),(2640,319),(2670,319),(2890,319),(3130,476),(3130,332),(3220,424),(2150,240),(2260,293),(2280,345),(2310,293),(2390,214),(2420,188),(2370,109),(2340,83),(2390,57),(2450,83),(2420,31),(2260,44),(2170,122),(2480,371),(2500,345),(1870,371),(1870,607)]

fwd_i = [(3370,1655),(3390,1681),(3670,1655),(4040,1708),(4270,1734),(4410,1708),(4520,1721),(4460,1629),(4270,1603),(4100,1288),(4350,1315),(4410,1288),(4430,1236),(4520,1367),(4630,1367),(4710,1157),(4820,1144),(4540,1144),(4460,1105),(4410,1026),(4330,974),(4240,922),(4270,869),(4330,843),(4460,1000),(4430,948),(4410,895),(4380,922),(4460,895),(4430,817),(4410,686),(4460,660),(4520,686),(4490,607),(4540,633),(4460,764),(4570,1053),(4650,1053),(4630,974),(4740,1000),(4710,974),(4630,895),(4600,922),(4630,764),(4820,948),(4960,895),(5010,764),(5010,712),(5040,660),(4960,686),(4870,660),(4790,607),(4740,581),(4710,529),(4820,607),(4520,555),(4490,529),(4520,502),(4460,371),(4490,293),(4540,240),(4630,319),(4650,267),(4680,214),(4710,162),(4740,188),(4760,136),(4790,162),(4870,319),(4930,371),(4960,267),(4980,162),(4930,162),(4900,57),(4850,83),(4710,31),(4380,109),(4350,83),(4270,5),(4190,319),(4220,188),(4100,293),(4080,83),(4020,109),(3940,319),(3910,188),(3890,136),(3780,162),(3700,136),(3640,293),(3670,345),(3590,293),(3530,188),(3420,267),(3390,214),(3370,293),(3390,371),(3420,450),(3370,502),(3390,529),(3500,555),(3530,476),(3420,555),(3560,686),(3610,686),(3480,686),(3500,738),(3700,712),(3720,607),(3890,686),(3890,607),(3910,502),(3860,529),(3910,398),(3890,319),(4020,555),(4050,660),(4080,712),(4130,607),(4130,555),(4350,555),(4410,555),(4270,738),(4160,712),(4220,764),(3390,1105),(3390,1184),(3530,1157),(3560,1079),(3610,1105),(3700,1131),(3750,1079),(3800,1053),(3860,1026),(3860,974),(3800,948),(3750,922),(3700,922),(3640,922),(3590,974),(3530,922),(3480,922),(3420,948),(3500,869),(3560,843),(3640,1000),(3720,974),(3800,1000),(3830,948),(3910,1026),(3940,974),(3890,922),(3970,1079),(4020,1105),(4080,1079),(4130,1079),(4100,1000),(4160,1053),(4220,1026),(4190,895),(4100,895),(4050,843),(3970,843),(3830,1053),(4000,764),(4020,712),(3830,686)]

# ---- assemble ----
rev_points = rev_a + rev_b + rev_c + rev_d + rev_e + rev_f + rev_g + rev_h + rev_i
fwd_points = fwd_a + fwd_b + fwd_c + fwd_d + fwd_e + fwd_f + fwd_g + fwd_h + fwd_i
KB = 1000

RED = "#ff0000"
BLUE = "#0a80ff"
MS = 56          # marker area (points^2) ~ 10 px dots
LW = 7.4         # segment width in points ~ 10 px

W = H = 800
fig = plt.figure(figsize=(8, 8), dpi=100)
ax = fig.add_axes([55 / W, 26 / H, 730 / W, 764 / H])

# forward (red) first, reverse (blue) on top
for x1, y1, x2, y2 in fwd_segments_kb:
    ax.plot([x1 * KB, x2 * KB], [y1 * KB, y2 * KB], color=RED, lw=LW,
            solid_capstyle="round", zorder=2)
ax.scatter([p[0] * KB for p in fwd_points], [p[1] * KB for p in fwd_points],
           s=MS, c=RED, linewidths=0, zorder=2)
for x1, y1, x2, y2 in rev_segments_kb:
    ax.plot([x1 * KB, x2 * KB], [y1 * KB, y2 * KB], color=BLUE, lw=LW,
            solid_capstyle="round", zorder=3)
ax.scatter([p[0] * KB for p in rev_points], [p[1] * KB for p in rev_points],
           s=MS, c=BLUE, linewidths=0, zorder=3)

ax.set_xlim(x_ticks_bp[0], x_ticks_bp[-1])
ax.set_ylim(y_ticks_bp[0], y_ticks_bp[-1])
ax.set_xticks(x_ticks_bp)
ax.set_yticks(y_ticks_bp)
mono = {"family": "DejaVu Sans Mono", "size": 6.5, "weight": "bold"}
ax.set_xticklabels([str(v) for v in x_ticks_bp], fontdict=mono)
ax.set_yticklabels([str(v) for v in y_ticks_bp], fontdict=mono)
ax.tick_params(axis="x", length=0, pad=3)
ax.tick_params(axis="y", length=0, pad=4)
for s in ax.spines.values():
    s.set_visible(False)
ax.grid(True, color="#a0a0a0", linestyle=(0, (2, 3)), linewidth=0.8, zorder=0)
ax.set_axisbelow(True)

# axis titles placed like the reference (REF under the axis, rotated label at far left)
fig.text(420 / W, 1 - 792 / H, x_label, ha="center", va="center",
         family="DejaVu Sans Mono", size=6.5)
fig.text(8 / W, 1 - 392 / H, y_label, ha="center", va="center", rotation=90,
         family="DejaVu Sans Mono", size=6.5)

fig.savefig("out.png", dpi=100)
